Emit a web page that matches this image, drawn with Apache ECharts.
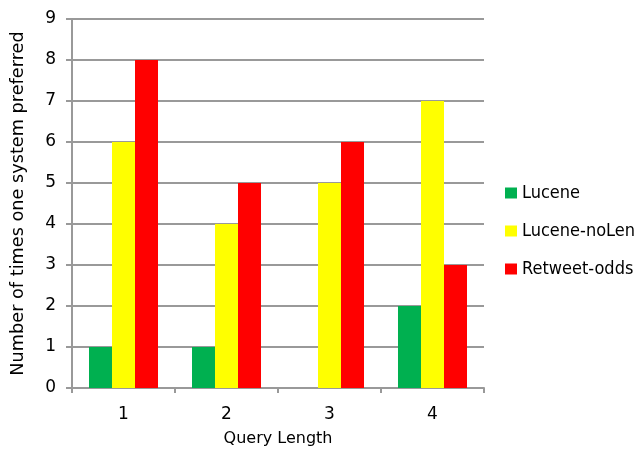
<!DOCTYPE html>
<html>
<head>
<meta charset="utf-8">
<script src="https://cdn.jsdelivr.net/npm/echarts@6/dist/echarts.min.js"></script>
<style>
  html, body { margin: 0; padding: 0; background: #fff; }
  #chart { width: 642px; height: 450px; }
</style>
</head>
<body>
<div id="chart"></div>
<script>
const categories = ['1', '2', '3', '4'];
const lucene = [1, 1, 0, 2];
const luceneNoLen = [6, 4, 5, 7];
const retweetOdds = [8, 5, 6, 3];
const seriesNames = ['Lucene', 'Lucene-noLen', 'Retweet-odds'];
const seriesColors = ['#00b050', '#ffff00', '#ff0000'];

const font = 'DejaVu Sans';
const chart = echarts.init(document.getElementById('chart'), null, { renderer: 'canvas' });

const values = [lucene, luceneNoLen, retweetOdds];

chart.setOption({
  animation: false,
  backgroundColor: '#ffffff',
  grid: { left: 72, right: 158, top: 19, bottom: 62, containLabel: false, outerBoundsMode: 'none' },
  legend: {
    orient: 'vertical',
    left: 500,
    top: 179,
    itemWidth: 12,
    itemHeight: 11,
    itemGap: 20,
    itemTextGap: 6,
    icon: 'rect',
    textStyle: { fontFamily: 'DejaVu Sans Condensed', fontSize: 18, color: '#000' },
    data: seriesNames
  },
  xAxis: {
    type: 'category',
    data: categories,
    name: 'Query Length',
    nameLocation: 'middle',
    nameGap: 43,
    nameTextStyle: { fontFamily: font, fontSize: 16, color: '#000' },
    axisLine: { lineStyle: { color: '#999', width: 2 } },
    axisTick: { show: true, alignWithLabel: false, length: 5, lineStyle: { color: '#999', width: 2 } },
    axisLabel: { fontFamily: font, fontSize: 17, color: '#000', margin: 18 },
    splitLine: { show: false }
  },
  yAxis: {
    type: 'value',
    min: 0,
    max: 9,
    interval: 1,
    name: 'Number of times one system preferred',
    nameLocation: 'middle',
    nameGap: 45,
    nameTextStyle: { fontFamily: font, fontSize: 17.7, color: '#000' },
    axisLine: { show: true, lineStyle: { color: '#999', width: 2 } },
    axisTick: { show: true, length: 6, lineStyle: { color: '#999', width: 2 } },
    axisLabel: { fontFamily: font, fontSize: 17, color: '#000', margin: 16 },
    splitLine: { show: true, lineStyle: { color: '#999', width: 2 } }
  },
  series: seriesNames.map((name, i) => ({
    name: name,
    type: 'bar',
    data: values[i],
    itemStyle: { color: seriesColors[i] },
    barGap: '0%',
    barCategoryGap: '33%'
  }))
});
</script>
</body>
</html>
